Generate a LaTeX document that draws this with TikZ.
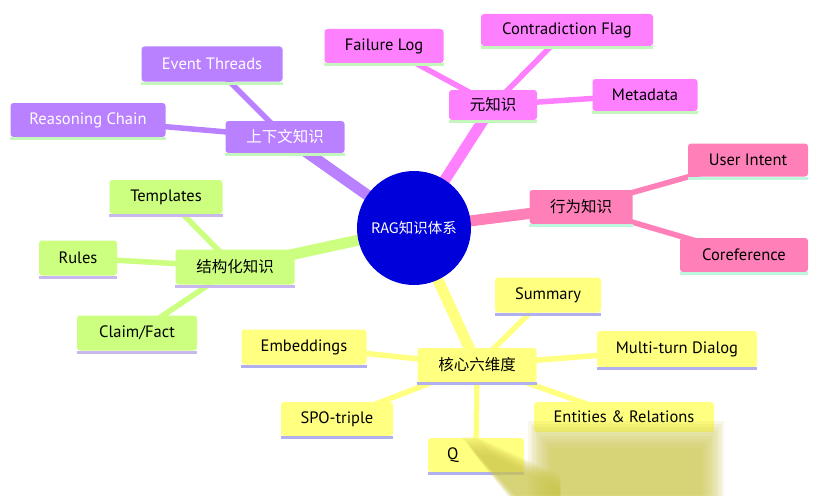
\documentclass[tikz,border=0pt]{standalone}
\usepackage{fontspec}
\setmainfont{PT Sans}
\newfontfamily\cjk{Noto Sans CJK SC}
\definecolor{cPur}{RGB}{185,128,255}
\definecolor{cMag}{RGB}{255,128,255}
\definecolor{cPink}{RGB}{255,128,185}
\definecolor{cGrn}{RGB}{204,255,128}
\definecolor{cYel}{RGB}{255,255,128}
\definecolor{cBlue}{RGB}{0,0,218}
\definecolor{ulGreen}{RGB}{196,246,190}
\definecolor{ulMint}{RGB}{190,246,222}
\definecolor{ulLav}{RGB}{200,184,238}
\definecolor{ulBlue}{RGB}{176,176,238}
\definecolor{cSmear}{RGB}{205,200,78}
\pgfdeclarelayer{bg}
\pgfsetlayers{bg,main}
\tikzset{
  box/.style={rectangle, rounded corners=3pt, inner sep=0pt, text=black,
    font=\fontsize{16.5}{19}\selectfont},
  e1/.style={line width=11pt},
  e2/.style={line width=5.5pt},
  smear/.style={fill=cSmear, fill opacity=0.13},
}
\newcommand{\ul}[2]{\fill[#2] ([yshift=-3pt]#1.south west) rectangle (#1.south east);}
\newcommand{\zh}{\cjk\fontsize{15.5}{18}\selectfont}
\begin{document}
\begin{tikzpicture}[x=1pt,y=-1pt]
\useasboundingbox (0,0) rectangle (834,495);
% root
\node[circle, fill=cBlue, minimum size=114pt, inner sep=0pt, text=white,
  font=\cjk\fontsize{14.5}{17}\selectfont] (root) at (414,228) {RAG知识体系};
% level 1
\node[box, fill=cMag, minimum width=88pt, minimum height=30pt] (meta) at (493,105) {\zh 元知识};
\node[box, fill=cPur, text=white, minimum width=119pt, minimum height=32pt] (ctx) at (285,137) {\zh 上下文知识};
\node[box, fill=cGrn, minimum width=119pt, minimum height=35pt] (str) at (235,267) {\zh 结构化知识};
\node[box, fill=cPink, minimum width=103pt, minimum height=34pt] (beh) at (581,207) {\zh 行为知识};
\node[box, fill=cYel, minimum width=119pt, minimum height=34pt] (core) at (477,365) {\zh 核心六维度};
% level 2 meta
\node[box, fill=cMag, minimum width=119pt, minimum height=34pt] (fail) at (384,46) {Failure Log};
\node[box, fill=cMag, minimum width=172pt, minimum height=32pt] (contra) at (567,30) {Contradiction Flag};
\node[box, fill=cMag, minimum width=105pt, minimum height=32pt] (metad) at (645,95) {Metadata};
% level 2 ctx
\node[box, fill=cPur, text=white, minimum width=141pt, minimum height=35pt] (event) at (212,64) {Event Threads};
\node[box, fill=cPur, text=white, minimum width=155pt, minimum height=34pt] (reason) at (88,120) {Reasoning Chain};
% level 2 str
\node[box, fill=cGrn, minimum width=113pt, minimum height=34pt] (templ) at (166,197) {Templates};
\node[box, fill=cGrn, minimum width=78pt, minimum height=35pt] (rules) at (78,258) {Rules};
\node[box, fill=cGrn, minimum width=120pt, minimum height=35pt] (claim) at (137,333) {Claim/Fact};
% level 2 beh
\node[box, fill=cPink, minimum width=120pt, minimum height=33pt] (intent) at (748,160) {User Intent};
\node[box, fill=cPink, minimum width=128pt, minimum height=34pt] (coref) at (744,255) {Coreference};
% level 2 core
\node[box, fill=cYel, minimum width=106pt, minimum height=35pt] (summ) at (548,295) {Summary};
\node[box, fill=cYel, minimum width=125pt, minimum height=35pt] (emb) at (304,347) {Embeddings};
\node[box, fill=cYel, minimum width=160pt, minimum height=36pt] (multi) at (677,349) {Multi-turn Dialog};
\node[box, fill=cYel, minimum width=112pt, minimum height=34pt] (spo) at (337,419) {SPO-triple};
\node[box, fill=cYel, minimum width=96pt, minimum height=34pt, align=left, text width=58pt] (qa) at (476,455) {Q};
\node[box, fill=cYel, minimum width=180pt, minimum height=30pt, anchor=north] (ent) at (624,402) {Entities \& Relations};
% underlines
\ul{meta}{ulGreen}\ul{fail}{ulGreen}\ul{contra}{ulGreen}\ul{metad}{ulGreen}
\ul{ctx}{ulGreen}\ul{event}{ulGreen}\ul{reason}{ulGreen}
\ul{str}{ulLav}\ul{templ}{ulLav}\ul{rules}{ulLav}\ul{claim}{ulLav}
\ul{beh}{ulMint}\ul{intent}{ulMint}\ul{coref}{ulMint}
\ul{core}{ulBlue}\ul{summ}{ulBlue}\ul{emb}{ulBlue}\ul{multi}{ulBlue}\ul{spo}{ulBlue}\ul{qa}{ulBlue}
% edges
\begin{pgfonlayer}{bg}
\fill[white] (0,0) rectangle (834,495);
\draw[e1, cMag] (root.center) -- (meta.center);
\draw[e1, cPur] (root.center) -- (ctx.center);
\draw[e1, cGrn] (root.center) -- (str.center);
\draw[e1, cPink] (root.center) -- (beh.center);
\draw[e1, cYel] (root.center) -- (core.center);
\draw[e2, cMag] (meta.center) -- (fail.center);
\draw[e2, cMag] (meta.center) -- (contra.center);
\draw[e2, cMag] (meta.center) -- (metad.center);
\draw[e2, cPur] (ctx.center) -- (event.center);
\draw[e2, cPur] (ctx.center) -- (reason.center);
\draw[e2, cGrn] (str.center) -- (templ.center);
\draw[e2, cGrn] (str.center) -- (rules.center);
\draw[e2, cGrn] (str.center) -- (claim.center);
\draw[e2, cPink] (beh.center) -- (intent.center);
\draw[e2, cPink] (beh.center) -- (coref.center);
\draw[e2, cYel] (core.center) -- (summ.center);
\draw[e2, cYel] (core.center) -- (emb.center);
\draw[e2, cYel] (core.center) -- (multi.center);
\draw[e2, cYel] (core.center) -- (spo.center);
\draw[e2, cYel] (core.center) -- (qa.center);
\draw[e2, cYel] (core.center) -- (ent.center);
\end{pgfonlayer}
% blurred smear over the bottom
\foreach \i in {0,...,9} {
  \fill[smear] (528+2.5*\i,421+3*\i) rectangle (724-2.5*\i,500);
  \fill[smear] (462+1.5*\i,437+2*\i) -- (476+1.5*\i,437+2*\i) -- (560,475+1.5*\i) -- (560,500) -- (520-1*\i,500) -- cycle;
}
\end{tikzpicture}
\end{document}
